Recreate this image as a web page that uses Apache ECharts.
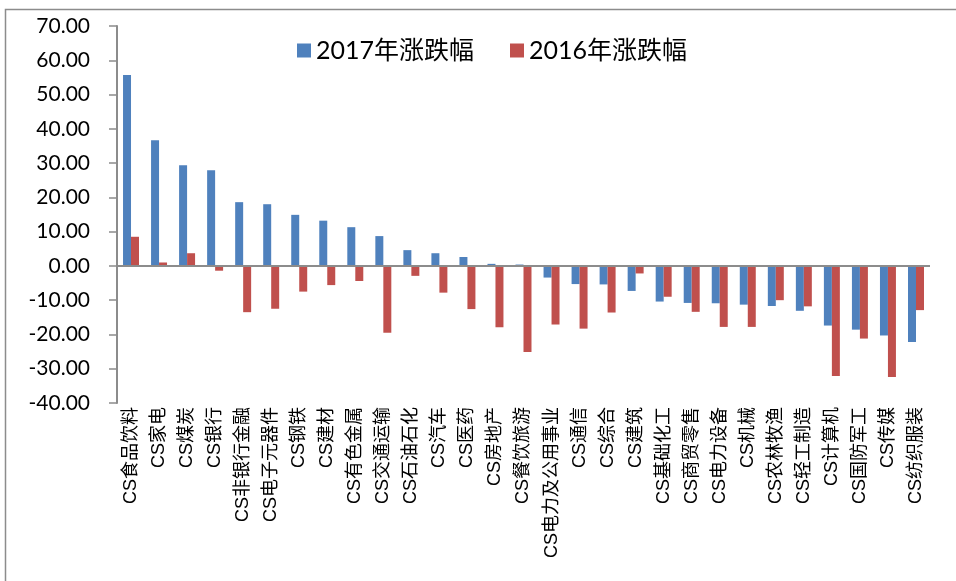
<!DOCTYPE html>
<html>
<head>
<meta charset="utf-8">
<script src="https://cdn.jsdelivr.net/npm/echarts@6/dist/echarts.min.js"></script>
<style>
    html, body { margin: 0; padding: 0; background: #fff; }
    #main { width: 956px; height: 581px; }
</style>
</head>
<body>
<div id="main"></div>
<script>
    // 行业名称
    var categories = ['CS食品饮料', 'CS家电', 'CS煤炭', 'CS银行', 'CS非银行金融', 'CS电子元器件', 'CS钢铁', 'CS建材',
        'CS有色金属', 'CS交通运输', 'CS石油石化', 'CS汽车', 'CS医药', 'CS房地产', 'CS餐饮旅游', 'CS电力及公用事业',
        'CS通信', 'CS综合', 'CS建筑', 'CS基础化工', 'CS商贸零售', 'CS电力设备', 'CS机械', 'CS农林牧渔',
        'CS轻工制造', 'CS计算机', 'CS国防军工', 'CS传媒', 'CS纺织服装'];
    var chg2017 = [55.7, 36.7, 29.4, 27.9, 18.6, 18.0, 14.9, 13.2, 11.3, 8.7, 4.6, 3.7, 2.6, 0.6, 0.4, -3.4,
        -5.3, -5.4, -7.3, -10.4, -10.8, -10.9, -11.3, -11.7, -13.1, -17.4, -18.6, -20.3, -22.2];
    var chg2016 = [8.5, 1.0, 3.7, -1.4, -13.5, -12.5, -7.5, -5.6, -4.4, -19.5, -2.9, -7.8, -12.6, -17.9, -25.1, -17.1,
        -18.3, -13.6, -2.2, -9.0, -13.4, -17.8, -17.8, -10.0, -11.8, -32.1, -21.2, -32.4, -12.9];

    var myChart = echarts.init(document.getElementById('main'));
    var option = {
        animation: false,
        graphic: [{
            type: 'rect',
            shape: { x: 5.5, y: 9.5, width: 1000, height: 1000 },
            style: { fill: 'none', stroke: '#8c8c8c', lineWidth: 1.5 },
            silent: true
        }],
        legend: {
            top: 33,
            left: 292,
            itemWidth: 14,
            itemHeight: 14,
            itemGap: 36,
            icon: 'rect',
            textStyle: { fontSize: 25, color: '#000', fontFamily: 'Lato, "Noto Sans CJK SC"' },
            data: ['2017年涨跌幅', '2016年涨跌幅']
        },
        grid: { left: 117, right: 26, top: 26, bottom: 178 },
        xAxis: {
            type: 'category',
            data: categories,
            axisLine: { show: false, onZero: false },
            axisTick: { show: false },
            axisLabel: {
                rotate: 90,
                interval: 0,
                margin: 4,
                fontSize: 18,
                color: '#000',
                fontFamily: '"Liberation Sans", "Noto Sans CJK SC"'
            }
        },
        yAxis: {
            type: 'value',
            min: -40,
            max: 70,
            interval: 10,
            axisLine: { show: true, lineStyle: { color: '#8c8c8c', width: 2 } },
            axisTick: { show: true, length: 8, lineStyle: { color: '#8c8c8c', width: 1.5 } },
            splitLine: { show: false },
            axisLabel: {
                margin: 27,
                fontSize: 21,
                color: '#000',
                fontFamily: 'Lato',
                formatter: function (v) { return v.toFixed(2); }
            }
        },
        series: [
            {
                name: '2017年涨跌幅',
                type: 'bar',
                data: chg2017,
                barGap: '0%',
                barCategoryGap: '43%',
                itemStyle: { color: '#4F81BD' },
                markLine: {
                    silent: true,
                    symbol: 'none',
                    label: { show: false },
                    lineStyle: { color: '#8c8c8c', width: 2, type: 'solid' },
                    data: [{ yAxis: 0 }]
                }
            },
            {
                name: '2016年涨跌幅',
                type: 'bar',
                data: chg2016,
                itemStyle: { color: '#C0504D' }
            }
        ]
    };
    option && myChart.setOption(option);
</script>
</body>
</html>
